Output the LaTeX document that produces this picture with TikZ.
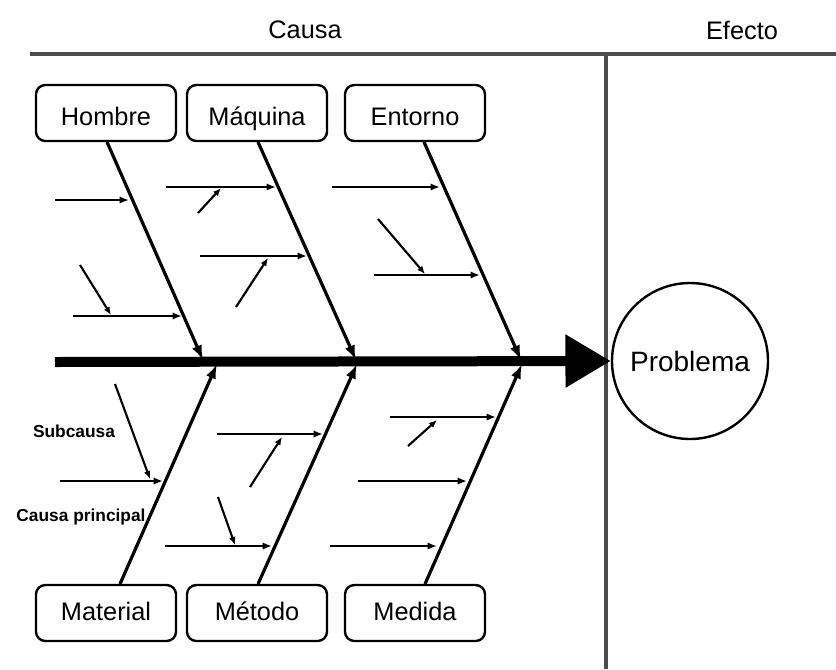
\documentclass[tikz,border=0pt]{standalone}
\usepackage{fontspec}
\setmainfont{Liberation Sans}
\usetikzlibrary{arrows.meta}
\begin{document}
\begin{tikzpicture}[x=0.75pt,y=-0.75pt,
  lbl/.style={font=\fontsize{19}{22}\selectfont},
  catbox/.style={draw,line width=1.8pt,rounded corners=7pt,minimum width=105pt,minimum height=42pt,inner sep=0pt,text height=14pt,text depth=3pt,font=\fontsize{19}{22}\selectfont},
  topbox/.style={catbox,text height=19pt,text depth=1pt},
  bone/.style={line width=2.4pt,-{Latex[length=11pt,width=8pt]}},
  sub/.style={line width=1.8pt,-{Latex[length=7pt,width=5.5pt]}},
  subsub/.style={line width=1.6pt,-{Latex[length=6pt,width=5pt]}},
  frame/.style={line width=2.8pt,draw=black!70},
  small/.style={font=\bfseries\fontsize{13}{15}\selectfont,inner sep=0pt}]
\useasboundingbox (0,0) rectangle (836,669);
% frame
\coordinate (tl) at (30,54); \coordinate (tr) at (836,54);
\coordinate (vt) at (606,54); \coordinate (vb) at (606,669);
\draw[frame] (tl) -- (tr);
\draw[frame] (vt) -- (vb);
\node[lbl] (causa) at (305,30) {Causa};
\node[lbl] (efecto) at (742,30) {Efecto};
% problem
\node[draw,circle,line width=1.8pt,minimum size=117pt,inner sep=0pt,font=\fontsize{21}{24}\selectfont] (prob) at (690,361) {Problema};
% spine
\coordinate (sp0) at (55,362);
\draw[line width=7.5pt,-{Triangle[length=34pt,width=38pt]}] (sp0) -- (prob.west);
% boxes
\node[topbox] (hom) at (106,113) {Hombre};
\node[topbox] (maq) at (257,113) {Máquina};
\node[topbox] (ent) at (415,113) {Entorno};
\node[catbox] (mat) at (106,613) {Material};
\node[catbox] (met) at (257,613) {Método};
\node[catbox] (med) at (415,613) {Medida};
% bone end points
\coordinate (h0) at (107,142); \coordinate (h1) at (203,360);
\coordinate (q0) at (258,142); \coordinate (q1) at (356,360);
\coordinate (e0) at (424,142); \coordinate (e1) at (521,360);
\coordinate (m0) at (120,584); \coordinate (m1) at (217,364);
\coordinate (t0) at (258,584); \coordinate (t1) at (357,364);
\coordinate (d0) at (425,584); \coordinate (d1) at (522,364);
\draw[bone] (h0) -- (h1);
\draw[bone] (q0) -- (q1);
\draw[bone] (e0) -- (e1);
\draw[bone] (m0) -- (m1);
\draw[bone] (t0) -- (t1);
\draw[bone] (d0) -- (d1);
% Hombre sub-causes
\coordinate (ha) at (55,200); \coordinate (hb) at (129,200);
\coordinate (hc) at (73,316); \coordinate (hd) at (182,316);
\coordinate (he) at (80,265); \coordinate (hf) at (111,315);
\draw[sub] (ha) -- (hb);
\draw[sub] (hc) -- (hd);
\draw[subsub] (he) -- (hf);
% Maquina sub-causes
\coordinate (qa) at (166,187); \coordinate (qb) at (276,187);
\coordinate (qc) at (198,213); \coordinate (qd) at (221,188);
\coordinate (qe) at (200,256); \coordinate (qf) at (307,256);
\coordinate (qg) at (236,307); \coordinate (qh) at (268,258);
\draw[sub] (qa) -- (qb);
\draw[subsub] (qc) -- (qd);
\draw[sub] (qe) -- (qf);
\draw[subsub] (qg) -- (qh);
% Entorno sub-causes
\coordinate (ea) at (332,187); \coordinate (eb) at (440,187);
\coordinate (ec) at (374,275); \coordinate (ed) at (480,275);
\coordinate (ee) at (378,219); \coordinate (ef) at (425,274);
\draw[sub] (ea) -- (eb);
\draw[sub] (ec) -- (ed);
\draw[subsub] (ee) -- (ef);
% Material sub-causes
\coordinate (ma) at (60,481); \coordinate (mb) at (163,481);
\coordinate (mc) at (115,384); \coordinate (md) at (150,479);
\draw[sub] (ma) -- (mb);
\draw[subsub] (mc) -- (md);
\node[small] (subc) at (74,431) {Subcausa};
\node[small] (cprin) at (81,517) {Causa principal};
% Metodo sub-causes
\coordinate (ta) at (217,434); \coordinate (tb) at (323,434);
\coordinate (tc) at (250,487); \coordinate (td) at (282,437);
\coordinate (te) at (165,546); \coordinate (tf) at (272,546);
\coordinate (tg) at (218,497); \coordinate (th) at (235,545);
\draw[sub] (ta) -- (tb);
\draw[subsub] (tc) -- (td);
\draw[sub] (te) -- (tf);
\draw[subsub] (tg) -- (th);
% Medida sub-causes
\coordinate (da) at (390,417); \coordinate (db) at (496,417);
\coordinate (dc) at (408,446); \coordinate (dd) at (437,420);
\coordinate (de) at (358,481); \coordinate (df) at (467,481);
\coordinate (dg) at (330,546); \coordinate (dh) at (437,546);
\draw[sub] (da) -- (db);
\draw[subsub] (dc) -- (dd);
\draw[sub] (de) -- (df);
\draw[sub] (dg) -- (dh);
\end{tikzpicture}
\end{document}
